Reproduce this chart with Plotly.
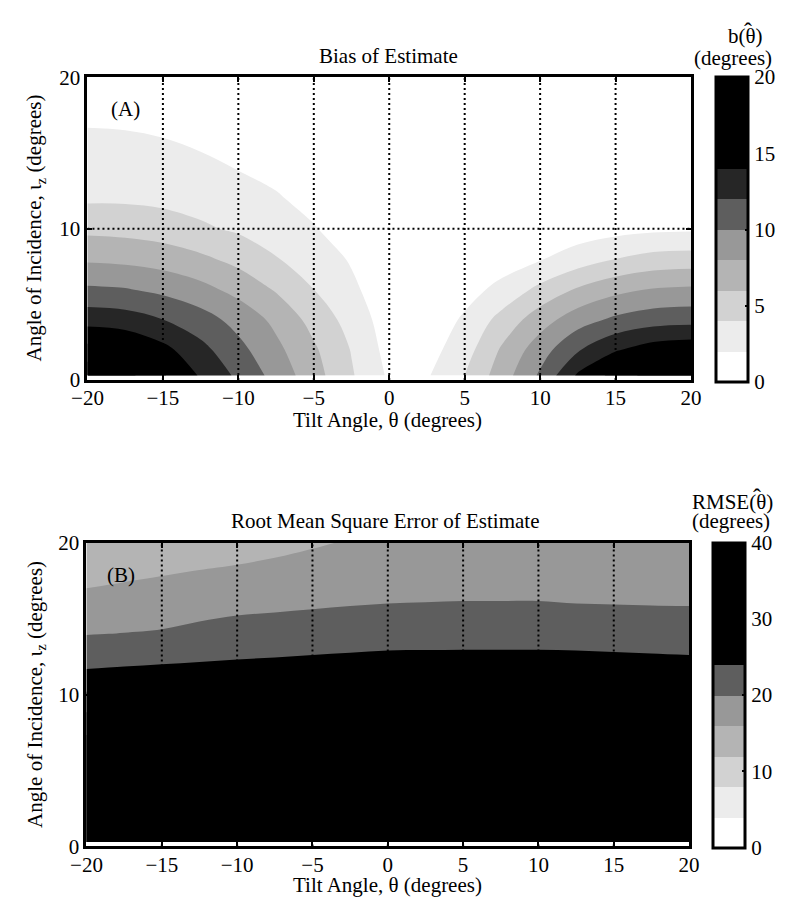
import plotly.graph_objects as go

# ---------------- data ----------------
theta = [-20, -17.5, -15, -12.5, -10, -7.5, -5, -2.5, 0, 2.5, 5, 7.5, 10, 12.5, 15, 17.5, 20]
iota = [0.3, 2, 4, 6, 8, 10, 12, 14, 16, 18, 20]

# (A) bias of estimate, degrees; one row per iota value
bias = [
    [19.5, 18.7, 16.2, 13.8, 11.6, 9.3, 6.8, 4.2, 1.7, 1.8, 4.0, 7.1, 10.3, 14.3, 16.7, 19.0, 20.0],
    [16.7, 16.1, 14.6, 12.6, 10.6, 8.5, 6.3, 3.9, 1.3, 1.2, 3.15, 6.3, 9.1, 11.8, 13.8, 15.0, 15.4],
    [13.2, 12.9, 12.0, 10.85, 9.3, 7.5, 5.3, 3.2, 1.0, 0.6, 2.3, 4.7, 7.1, 9.1, 10.4, 11.1, 11.3],
    [10.3, 10.1, 9.5, 8.6, 7.35, 5.8, 4.0, 2.4, 0.7, 0.0, 1.2, 2.6, 4.5, 6.2, 7.4, 8.1, 8.3],
    [7.7, 7.5, 7.1, 6.4, 5.4, 4.1, 3.1, 1.8, 0.3, 0.0, 0.0, 1.0, 1.85, 3.0, 4.0, 4.7, 4.9],
    [5.5, 5.35, 5.0, 4.3, 3.7, 3.1, 2.1, 1.2, 0.0, 0.0, 0.0, 0.0, 0.3, 0.9, 1.3, 1.6, 1.7],
    [3.7, 3.7, 3.5, 3.25, 2.8, 2.15, 1.5, 0.7, 0.0, 0.0, 0.0, 0.0, 0.0, 0.0, 0.0, 0.0, 0.0],
    [2.9, 2.8, 2.65, 2.35, 1.94, 1.55, 1.0, 0.15, 0.0, 0.0, 0.0, 0.0, 0.0, 0.0, 0.0, 0.0, 0.0],
    [2.2, 2.15, 2.0, 1.7, 1.4, 1.0, 0.4, 0.0, 0.0, 0.0, 0.0, 0.0, 0.0, 0.0, 0.0, 0.0, 0.0],
    [1.6, 1.55, 1.36, 1.2, 0.9, 0.5, 0.0, 0.0, 0.0, 0.0, 0.0, 0.0, 0.0, 0.0, 0.0, 0.0, 0.0],
    [1.0, 0.95, 0.86, 0.67, 0.4, 0.0, 0.0, 0.0, 0.0, 0.0, 0.0, 0.0, 0.0, 0.0, 0.0, 0.0, 0.0],
]

# (B) root mean square error of estimate, degrees; one row per iota value
rmse = [
    [39, 39, 39, 39, 39, 39, 39, 39, 39, 39, 39, 39, 39, 39, 39, 39, 39],
    [39, 39, 39, 39, 39, 39, 39, 39, 39, 39, 39, 39, 39, 39, 39, 39, 39],
    [39, 39, 39, 39, 39, 39, 39, 39, 39, 39, 39, 39, 39, 39, 39, 39, 39],
    [39, 39, 39, 39, 39, 39, 39, 39, 39, 39, 39, 39, 39, 39, 39, 39, 39],
    [34.5, 35.25, 36.0, 36.45, 36.9, 37.35, 37.8, 38.25, 38.7, 38.79, 38.85, 38.85, 38.85, 38.7, 38.4, 38.1, 37.8],
    [28.5, 29.25, 30.0, 30.45, 30.9, 31.35, 31.8, 32.25, 32.7, 32.79, 32.85, 32.85, 32.85, 32.7, 32.4, 32.1, 31.8],
    [23.17, 23.57, 24.0, 24.24, 24.43, 24.63, 24.83, 25.0, 25.16, 25.19, 25.21, 25.21, 25.21, 25.16, 25.03, 24.9, 24.76],
    [19.87, 20.09, 20.36, 21.04, 21.57, 21.82, 22.07, 22.33, 22.58, 22.63, 22.67, 22.67, 22.67, 22.58, 22.45, 22.32, 22.22],
    [17.29, 17.67, 18.0, 18.48, 18.96, 19.24, 19.51, 19.78, 20.0, 20.06, 20.13, 20.13, 20.13, 20.0, 19.92, 19.84, 19.8],
    [14.71, 15.28, 15.78, 16.23, 16.64, 17.08, 17.56, 18.02, 18.33, 18.42, 18.51, 18.51, 18.51, 18.4, 18.32, 18.24, 18.18],
    [12.13, 12.9, 13.56, 13.97, 14.32, 14.92, 15.61, 16.26, 16.67, 16.81, 16.94, 16.94, 16.94, 16.8, 16.72, 16.64, 16.57],
]

x_ticks = [-20, -15, -10, -5, 0, 5, 10, 15, 20]
y_ticks = [0, 10, 20]
grid_x = [-15, -10, -5, 0, 5, 10, 15]
grid_y = [10]
bias_ticks = [0, 5, 10, 15, 20]
rmse_ticks = [0, 10, 20, 30, 40]

bias_colors = ["#ffffff", "#ececec", "#d2d2d2", "#b4b4b4", "#989898",
               "#5e5e5e", "#262626", "#000000", "#000000", "#000000"]
rmse_colors = ["#ffffff", "#ececec", "#d2d2d2", "#b4b4b4", "#989898",
               "#5e5e5e", "#000000", "#000000", "#000000", "#000000"]

# ---------------- figure ----------------
W, H = 787, 913
FONT = "Liberation Serif, Times New Roman, serif"
FS = 21


def px_x(p):
    return p / W


def px_y(p):
    return 1 - p / H


def step_scale(colors):
    n = len(colors)
    cs = []
    for i, c in enumerate(colors):
        cs.append([i / n, c])
        cs.append([(i + 1) / n, c])
    return cs


panels = [
    dict(z=bias, zmax=20, size=2, ticks=bias_ticks, colors=bias_colors,
         box=(74, 699, 67, 378), cb=(725, 67, 380), xa="x", ya="y"),
    dict(z=rmse, zmax=40, size=4, ticks=rmse_ticks, colors=rmse_colors,
         box=(73, 697, 545, 857), cb=(722, 545, 858), xa="x2", ya="y2"),
]

fig = go.Figure()
for p in panels:
    cx, ct, cbt = p["cb"]
    fig.add_trace(go.Contour(
        x=theta, y=iota, z=p["z"], xaxis=p["xa"], yaxis=p["ya"],
        zmin=0, zmax=p["zmax"], autocontour=False,
        contours=dict(start=0, end=p["zmax"], size=p["size"], coloring="fill", showlines=False),
        line=dict(width=0), colorscale=step_scale(p["colors"]), hoverinfo="skip",
        colorbar=dict(
            x=px_x(cx), xanchor="left", xpad=0, ypad=0,
            y=px_y((ct + cbt) / 2), yanchor="middle", len=(cbt - ct) / H, lenmode="fraction",
            thickness=32, thicknessmode="pixels",
            outlinewidth=3, outlinecolor="black",
            tickvals=p["ticks"], ticks="inside", ticklen=4, tickwidth=2, tickcolor="black",
            tickfont=dict(family=FONT, size=FS, color="black"),
        ),
    ))

axis_common = dict(showline=True, linewidth=3, linecolor="black", mirror="ticks",
                   ticks="inside", ticklen=5, tickwidth=2, tickcolor="black",
                   showgrid=False, zeroline=False,
                   tickfont=dict(family=FONT, size=FS, color="black"))

l, r, t, b = panels[0]["box"]
fig.update_layout(
    xaxis=dict(domain=[px_x(l), px_x(r)], range=[-20, 20], tickvals=x_ticks, anchor="y",
               ticklabelstandoff=-3, **axis_common),
    yaxis=dict(domain=[px_y(b), px_y(t)], range=[0, 20], tickvals=y_ticks, anchor="x", **axis_common),
)
l, r, t, b = panels[1]["box"]
fig.update_layout(
    xaxis2=dict(domain=[px_x(l), px_x(r)], range=[-20, 20], tickvals=x_ticks, anchor="y2",
                ticklabelstandoff=-3, **axis_common),
    yaxis2=dict(domain=[px_y(b), px_y(t)], range=[0, 20], tickvals=y_ticks, anchor="x2", **axis_common),
)

# dotted grid lines drawn over the filled contours
shapes = []
for xa, ya in [("x", "y"), ("x2", "y2")]:
    for gx in grid_x:
        shapes.append(dict(type="line", xref=xa, yref=ya, x0=gx, x1=gx, y0=0, y1=20,
                           line=dict(color="black", width=2, dash="2px,3px"), layer="above"))
    for gy in grid_y:
        shapes.append(dict(type="line", xref=xa, yref=ya, x0=-20, x1=20, y0=gy, y1=gy,
                           line=dict(color="black", width=2, dash="2px,3px"), layer="above"))

font = dict(family=FONT, size=FS, color="black")
ann = []


def add_text(text, x, y, angle=0, anchor="center", size=FS):
    ann.append(dict(text=text, x=px_x(x), y=px_y(y), xref="paper", yref="paper",
                    xanchor=anchor, yanchor="middle", showarrow=False,
                    font=dict(family=FONT, size=size, color="black"),
                    textangle=angle))


add_text("Bias of Estimate", 386, 45)
add_text("Root Mean Square Error of Estimate", 383, 523)
add_text("Tilt Angle, θ (degrees)", 385, 419)
add_text("Tilt Angle, θ (degrees)", 385, 897)
add_text("Angle of Incidence, ι<sub>z</sub> (degrees)", 20, 222, -90)
add_text("Angle of Incidence, ι<sub>z</sub> (degrees)", 20, 701, -90)

# colour-bar titles; the hat over theta is a separate mark placed above the theta
add_text("b(θ)", 735, 25, anchor="left")
add_text("\u02c6", 735 + 1.083 * FS, 20, size=24)
add_text("(degrees)", 742, 47)
add_text("RMSE(θ)", 698, 503, anchor="left")
add_text("\u02c6", 698 + 3.306 * FS, 498, size=24)
add_text("(degrees)", 740, 523)

ann.append(dict(text="(A)", x=-17.5, y=17.9, xref="x", yref="y", showarrow=False, font=font))
ann.append(dict(text="(B)", x=-17.7, y=17.9, xref="x2", yref="y2", showarrow=False, font=font))

fig.update_layout(
    width=W, height=H, margin=dict(l=0, r=0, t=0, b=0),
    paper_bgcolor="white", plot_bgcolor="white",
    showlegend=False, shapes=shapes, annotations=ann,
    font=font,
)

fig.write_html("out.html")
